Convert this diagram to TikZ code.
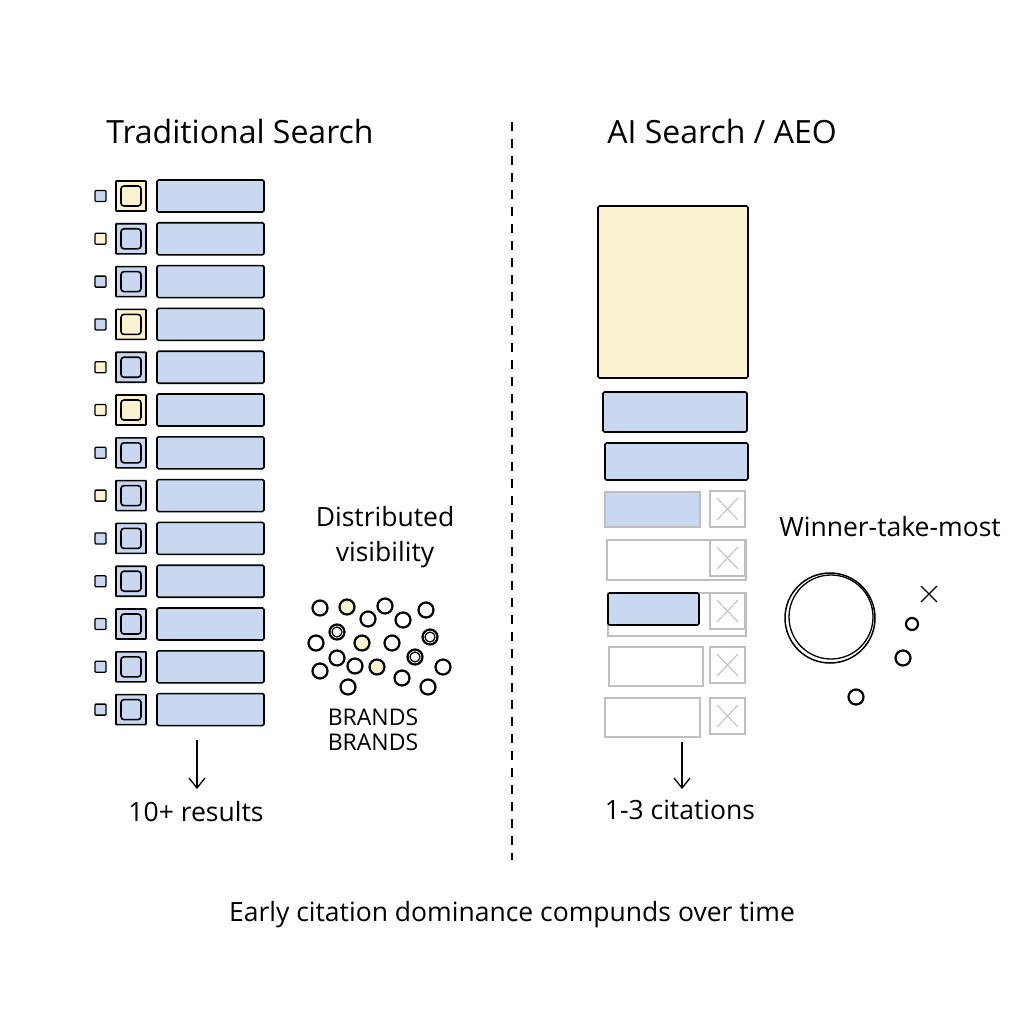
\documentclass[tikz,border=0pt]{standalone}
\usepackage{fontspec}
\setmainfont{Open Sans}
\begin{document}
\begin{tikzpicture}[x=1pt,y=-1pt,
  ol/.style={draw=black,line width=1.6pt,rounded corners=1.5pt},
  fa/.style={draw=black!25,line width=1.3pt},
  t/.style={font=\fontsize{32}{38}\selectfont},
  m/.style={font=\fontsize{26.5}{35}\selectfont},
  c/.style={circle,draw=black,line width=2.2pt,inner sep=0pt},
  ]
\useasboundingbox (0,0) rectangle (1024,1024);
\definecolor{bl}{HTML}{C8D8F0}
\definecolor{ye}{HTML}{FBF3CF}
\node[t] (tl) at (240,132) {Traditional Search};
\node[t] (tr) at (722,132) {AI Search / AEO};
\coordinate (d1) at (512,122); \coordinate (d2) at (512,860);
\draw[line width=1.3pt,dash pattern=on 9pt off 8pt] (d1)--(d2);
\foreach \i/\sc/\mc in {0/bl/ye,1/ye/bl,2/bl/bl,3/bl/ye,4/ye/bl,5/ye/ye,6/bl/bl,7/ye/bl,8/bl/bl,9/bl/bl,10/bl/bl,11/bl/bl,12/bl/bl}{
  \pgfmathsetmacro\yy{196+42.8*\i}
  \draw[ol,fill=\sc,line width=1.3pt,rounded corners=1pt] (95,\yy-5.5) rectangle (106,\yy+5.5);
  \draw[ol,fill=\mc,rounded corners=0.5pt] (116,\yy-15) rectangle (146,\yy+15);
  \draw[ol,fill=\mc,rounded corners=3pt] (121,\yy-10) rectangle (141,\yy+10);
  \draw[ol,fill=bl] (157,\yy-16) rectangle (264,\yy+16);
}
\coordinate (a1) at (197,740); \coordinate (a2) at (197,788);
\draw[line width=1.3pt] (a1)--(a2);
\draw[line width=1.3pt] (189,778)--(197,788)--(205,778);
\node[m] (r1) at (196,812) {10+ results};
\node[m,align=center] (dv) at (385,537) {Distributed\\visibility};
\foreach \x/\y/\f in {320/608/white,347/607/ye,385/606/white,426/610/white,368/619/white,403/620/white,337/632/white,362/643/ye,392/643/white,430/637/white,316/643/white,337/658/white,355/666/white,377/667/ye,415/657/white,443/667/white,320/671/white,402/678/white,348/687/white,428/687/white}
  \node[c,fill=\f,minimum size=15pt] at (\x,\y) {};
\draw[line width=1.2pt] (337,632) circle (5pt) (430,637) circle (5pt) (415,657) circle (5pt);
\node[font=\fontsize{23}{25}\selectfont,align=center] (br) at (373,730) {BRANDS\\BRANDS};
% right
\draw[ol,fill=ye] (598,206) rectangle (748,378);
\draw[ol,fill=bl] (603,392) rectangle (747,432);
\draw[ol,fill=bl] (605,443) rectangle (748,480);
\draw[fa,fill=bl] (605,492) rectangle (700,527);
\draw[fa] (607,540) rectangle (746,580);
\draw[fa] (608,593) rectangle (746,636);
\draw[ol,fill=bl] (608,593) rectangle (699,625);
\draw[fa] (609,647) rectangle (703,686);
\draw[fa] (605,698) rectangle (700,737);
\foreach \y in {491,540,593,647,698}{
  \draw[fa,fill=white] (710,\y) rectangle (745,\y+36);
  \draw[fa,line width=1pt] (717,\y+7)--(738,\y+29) (738,\y+7)--(717,\y+29);
}
\coordinate (b1) at (682,742); \coordinate (b2) at (682,788);
\draw[line width=1.3pt] (b1)--(b2);
\draw[line width=1.3pt] (674,778)--(682,788)--(690,778);
\node[m] (r2) at (680,810) {1-3 citations};
\node[m] (wt) at (890,527) {Winner-take-most};
\node[c,line width=1.5pt,minimum size=90pt] (big) at (830,618) {};
\draw[line width=1.3pt] (831,617) circle (42pt);
\node[c,minimum size=12pt] at (912,624) {};
\node[c,minimum size=15pt] at (903,658) {};
\node[c,minimum size=15pt] at (856,697) {};
\draw[line width=1.3pt] (921,586)--(937,602) (937,586)--(921,602);
\node[m] (ft) at (512,915) {Early citation dominance compunds over time};
\end{tikzpicture}
\end{document}
